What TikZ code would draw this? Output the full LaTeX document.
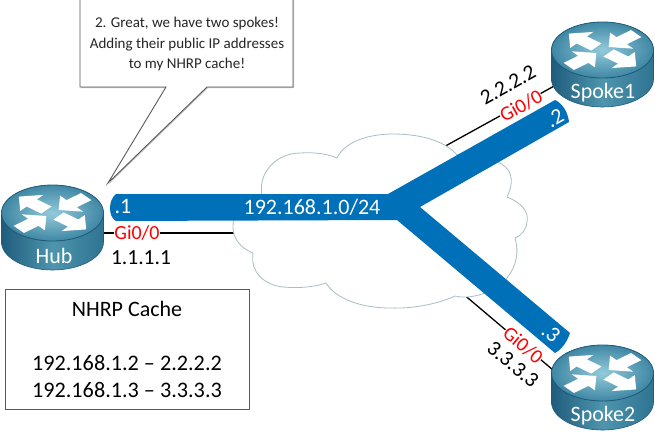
\documentclass[tikz,border=0pt]{standalone}
\usepackage{fontspec}
\setmainfont{Carlito}
\usetikzlibrary{shapes.geometric,shadows}
\definecolor{bandblue}{HTML}{0070B9}
\definecolor{cloudline}{HTML}{A8BEC2}
\definecolor{boxline}{HTML}{5A5A5A}
\definecolor{rtdark}{HTML}{1F5C7C}
\definecolor{rtside}{HTML}{2F7391}
\definecolor{rtmid}{HTML}{4E95AD}
\definecolor{rttop}{HTML}{3F87A4}
\definecolor{rtlight}{HTML}{93CADB}
\newcommand{\fs}[1]{\fontsize{#1}{#1}\selectfont}
\tikzset{
  x=1pt,y=-1pt,
  wire/.style={draw=black,line width=1.3pt},
  gilabel/.style={text=red,fill=white,inner sep=0.5pt,font=\fs{20}},
  iplabel/.style={text=black,inner sep=0pt,font=\fs{21.5}},
  bandlabel/.style={text=white,inner sep=0pt,font=\fs{22}},
  rlabel/.style={text=white,inner sep=0pt,font=\fs{22}},
  boxstyle/.style={draw=boxline,line width=0.9pt,fill=white,drop shadow={shadow xshift=1pt,shadow yshift=-1pt,opacity=0.25,fill=black}},
  rhole/.style={ellipse,minimum width=101pt,minimum height=85pt,inner sep=0pt},
  rarrow/.style={fill=white,draw=none}
}
\newcommand{\outarrow}[1]{\fill[rarrow,rotate=#1] (8,-8) -- (27,-8) -- (27,-18) -- (44,0) -- (27,18) -- (27,8) -- (8,8) -- cycle;}
\newcommand{\inarrow}[1]{\fill[rarrow,rotate=#1] (44,-8) -- (25,-8) -- (25,-18) -- (8,0) -- (25,18) -- (25,8) -- (44,8) -- cycle;}
\newcommand{\routerdraw}[5]{%
  \begin{scope}[shift={(#2,#3)}]
    \path[left color=rtdark,right color=rtside,middle color=rtmid]
      (-51,0) -- (-51,29) arc[start angle=180,end angle=360,x radius=51,y radius=-28] -- (51,0) -- cycle;
    \draw[rtdark,line width=0.6pt] (-51,0) -- (-51,29) arc[start angle=180,end angle=360,x radius=51,y radius=-28] -- (51,0);
    \fill[inner color=rtlight,outer color=rttop] (0,0) ellipse[x radius=51,y radius=28];
    \draw[rtdark,line width=0.8pt] (0,0) ellipse[x radius=51,y radius=28];
    \begin{scope}[yscale=0.58]
      \outarrow{-40}
      \outarrow{140}
      \inarrow{220}
      \inarrow{40}
    \end{scope}
    \node[rlabel] at (#5,43) {#4};
  \end{scope}
}
\begin{document}
\begin{tikzpicture}
\useasboundingbox (0,0) rectangle (655,434);
\fill[white] (0,0) rectangle (655,434);

\node[rhole] (hub) at (52.5,227) {};
\node[rhole] (spokeone) at (602.5,64) {};
\node[rhole] (spoketwo) at (602.5,387) {};

\coordinate (hubin) at (240,233);
\coordinate (oneport) at (556,85);
\coordinate (onein) at (440,149);
\coordinate (twoport) at (553,370);
\coordinate (twoin) at (462,293);
\coordinate (hubport) at (100,233);

\draw[wire] (hubport) -- (hubin);
\draw[wire] (oneport) -- (onein);
\draw[wire] (twoport) -- (twoin);

\draw[draw=cloudline,line width=0.8pt,fill=white]
  (233,227) .. controls (231,214) and (250,207) .. (263,200)
  .. controls (255,172) and (278,153) .. (300,153)
  .. controls (315,152) and (328,154) .. (337,158)
  .. controls (345,141) and (370,134) .. (393,134)
  .. controls (425,134) and (447,143) .. (457,155)
  .. controls (470,150) and (490,152) .. (498,162)
  .. controls (510,168) and (516,178) .. (507,197)
  .. controls (522,203) and (529,212) .. (527,222)
  .. controls (526,230) and (522,235) .. (515,238)
  .. controls (519,252) and (517,265) .. (507,278)
  .. controls (495,292) and (472,300) .. (455,296)
  .. controls (440,303) and (415,309) .. (390,308)
  .. controls (360,308) and (335,298) .. (326,283)
  .. controls (312,288) and (295,288) .. (283,287)
  .. controls (265,285) and (250,273) .. (253,253)
  .. controls (240,248) and (233,238) .. (233,227) -- cycle;

\fill[bandblue]
  (116,194) -- (388,194) -- (555,100)
  .. controls (562,103) and (568,112) .. (569,122)
  -- (420,207) -- (570,333)
  .. controls (567,342) and (562,349) .. (555,353)
  -- (397,220) -- (116,221)
  .. controls (108,217) and (108,200) .. (116,194) -- cycle;

\routerdraw{hub}{52.5}{213}{Hub}{1.5}
\routerdraw{spokeone}{602.5}{50}{Spoke1}{0.5}
\routerdraw{spoketwo}{602.5}{373}{Spoke2}{0.5}

\node[gilabel] (gihub) at (137,233) {Gi0/0};
\node[iplabel] (iphub) at (141,258) {1.1.1.1};
\node[gilabel,rotate=29] (gione) at (521,106) {Gi0/0};
\node[iplabel,rotate=29] (ipone) at (508,85) {2.2.2.2};
\node[gilabel,rotate=-40] (gitwo) at (523,345) {Gi0/0};
\node[iplabel,rotate=-40] (iptwo) at (513,364) {3.3.3.3};

\node[bandlabel] (bandone) at (123,207) {.1};
\node[bandlabel] (bandnet) at (312,207) {192.168.1.0/24};
\node[bandlabel,rotate=29] (bandtwo) at (555,118) {.2};
\node[bandlabel,rotate=-40] (bandthree) at (551,333) {.3};

\draw[boxstyle] (80,-3) -- (293,-3) -- (293,87) -- (207,87) -- (108,183) -- (166,87) -- (80,87) -- cycle;
\node[inner sep=0pt,align=center,font=\fontsize{15}{20.5}\selectfont,text=black!85] (bubble) at (187,44)
  {2. Great, we have two spokes!\\Adding their public IP addresses\\to my NHRP cache!};

\node[boxstyle,minimum width=244pt,minimum height=120pt,inner sep=0pt] (cachebox) at (127,349) {};
\node[inner sep=0pt,font=\fs{22}] (cachetitle) at (127,309) {NHRP Cache};
\node[inner sep=0pt,font=\fs{22.2}] (cacheone) at (127,363) {192.168.1.2 – 2.2.2.2};
\node[inner sep=0pt,font=\fs{22.2}] (cachetwo) at (127,390) {192.168.1.3 – 3.3.3.3};
\end{tikzpicture}
\end{document}
